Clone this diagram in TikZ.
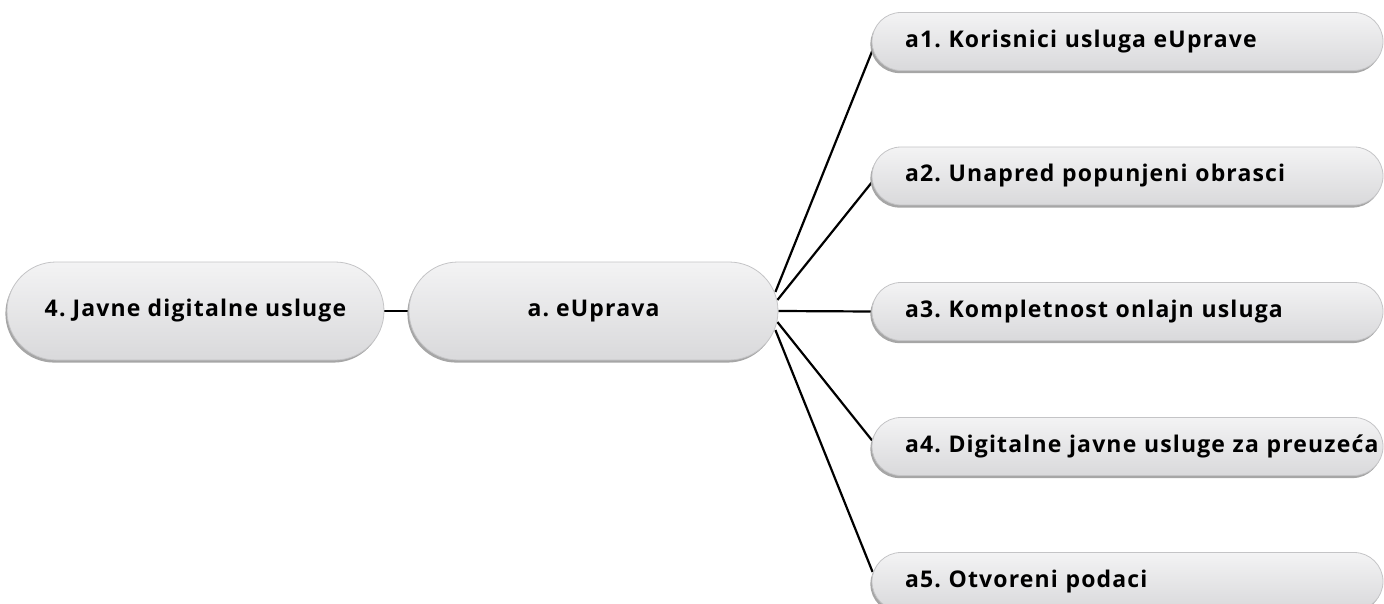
\documentclass[tikz,border=0pt]{standalone}
\usepackage{fontspec}
\setmainfont{Open Sans}[LetterSpace=5]
\frenchspacing
\usetikzlibrary{shadows,backgrounds}
\definecolor{boxtop}{HTML}{F3F3F4}
\definecolor{boxbot}{HTML}{D9D9DB}
\definecolor{boxline}{HTML}{C4C4C6}
\tikzset{
  pill/.style={rectangle, rounded corners=#1, top color=boxtop, bottom color=boxbot,
    draw=boxline, line width=0.8pt,
    drop shadow={shadow xshift=-1.6pt, shadow yshift=-2.6pt, fill=black!35, opacity=1},
    font=\fontsize{23}{26}\selectfont\bfseries, text=black},
  mainbox/.style={pill=49pt, minimum height=98pt, align=center, inner sep=0pt},
  childbox/.style={pill=29pt, minimum height=58pt, minimum width=511pt,
    text width=445pt, inner xsep=33pt, inner ysep=0pt, align=left},
  conn/.style={draw=black, line width=2.2pt}
}
\begin{document}
\begin{tikzpicture}[x=1pt,y=-1pt]
\useasboundingbox (0,0) rectangle (1384,604);
\node[mainbox, minimum width=377pt] (n4) at (195.5,311) {4. Javne digitalne usluge};
\node[mainbox, minimum width=369pt] (eup) at (593.5,311) {a. eUprava};
\node[childbox] (a1) at (1127.5,41.5) {a1. Korisnici usluga eUprave};
\node[childbox] (a2) at (1127.5,176) {a2. Unapred popunjeni obrasci};
\node[childbox] (a3) at (1127.5,311.5) {a3. Kompletnost onlajn usluga};
\node[childbox] (a4) at (1127.5,446.5) {\mbox{a4. Digitalne javne usluge za preuzeća}};
\node[childbox] (a5) at (1127.5,581.5) {a5. Otvoreni podaci};
\begin{scope}[on background layer]
\draw[conn] (n4.east) -- (eup.west);
\draw[conn] ([xshift=-3pt,yshift=19pt]eup.east) -- ([xshift=1pt,yshift=-8.5pt]a1.west);
\draw[conn] ([xshift=-1pt,yshift=11pt]eup.east) -- ([xshift=0.5pt,yshift=-6pt]a2.west);
\draw[conn] (eup.east) -- (a3.west);
\draw[conn] ([xshift=-1pt,yshift=-11pt]eup.east) -- ([xshift=0.5pt,yshift=6pt]a4.west);
\draw[conn] ([xshift=-3pt,yshift=-19pt]eup.east) -- ([xshift=1pt,yshift=9.5pt]a5.west);
\end{scope}
\end{tikzpicture}
\end{document}
